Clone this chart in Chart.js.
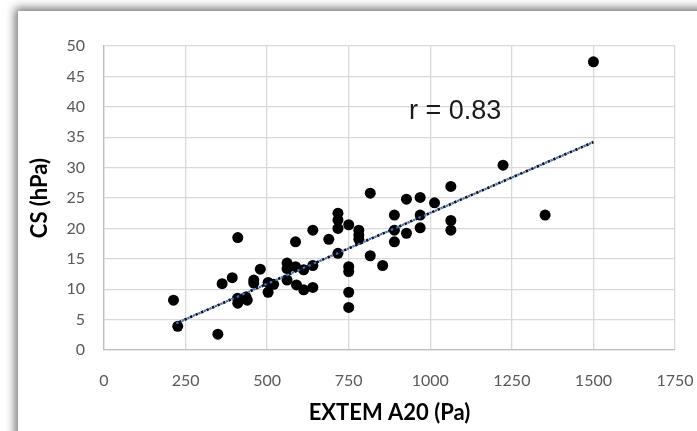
<!DOCTYPE html>
<html>
<head>
<meta charset="utf-8">
<script src="https://cdn.jsdelivr.net/npm/chart.js@4/dist/chart.umd.min.js"></script>
<style>
  html, body { margin: 0; padding: 0; background: #fff; overflow: hidden; }
  #wrap { position: relative; width: 697px; height: 431px; }
  #card { position: absolute; left: 18px; top: 11px; width: 760px; height: 480px; background: #fff;
          box-shadow: -2px -2px 9px 1px rgba(0,0,0,0.55); }
  #c { position: absolute; left: 0; top: 0; }
</style>
</head>
<body>
<div id="wrap">
  <div id="card"></div>
  <canvas id="c" width="697" height="431"></canvas>
</div>
<script>
// EXTEM A20 (Pa)
const extemA20 = [213, 226, 349, 362, 393, 410, 409, 410, 439, 435, 459, 459, 479, 503, 503, 520,
  561, 561, 561, 587, 587, 590, 612, 612, 640, 640, 640, 689, 717, 717, 717, 717,
  750, 750, 750, 750, 750, 781, 781, 781, 816, 816, 854, 890, 890, 890, 927, 927,
  969, 969, 969, 1013, 1063, 1063, 1063, 1223, 1352, 1500];
// CS (hPa)
const csValues = [8.2, 3.9, 2.6, 10.9, 11.9, 18.5, 8.5, 7.7, 8.2, 8.7, 11.5, 11.0, 13.3, 11.1, 9.5, 10.8,
  14.3, 13.4, 11.5, 13.7, 17.8, 10.7, 13.2, 9.9, 19.7, 13.9, 10.3, 18.2, 22.5, 21.4, 20.0, 15.9,
  20.6, 13.7, 12.9, 9.5, 7.0, 19.7, 18.9, 18.2, 25.8, 15.5, 13.9, 22.2, 19.7, 17.8, 24.8, 19.2,
  25.1, 22.2, 20.1, 24.2, 26.9, 21.3, 19.7, 30.4, 22.2, 47.4];
// Linear trendline endpoints
const trendX = [213, 1500];
const trendY = [4.2, 34.2];
// Axis ticks
const xTicks = [0, 250, 500, 750, 1000, 1250, 1500, 1750];
const yTicks = [0, 5, 10, 15, 20, 25, 30, 35, 40, 45, 50];
const rLabel = 'r = 0.83';
const rLabelPos = [935, 39.2];

const points = extemA20.map((x, i) => ({ x: x, y: csValues[i] }));
const trend = trendX.map((x, i) => ({ x: x, y: trendY[i] }));

const rLabelPlugin = {
  id: 'rLabel',
  afterDatasetsDraw(chart) {
    const ctx = chart.ctx;
    const xs = chart.scales.x, ys = chart.scales.y;
    ctx.save();
    ctx.font = '27px "Liberation Sans", Arial, sans-serif';
    ctx.fillStyle = '#1a1a1a';
    ctx.textAlign = 'left';
    ctx.textBaseline = 'middle';
    ctx.fillText(rLabel, xs.getPixelForValue(rLabelPos[0]), ys.getPixelForValue(rLabelPos[1]));
    ctx.restore();
  }
};

new Chart(document.getElementById('c'), {
  type: 'scatter',
  data: {
    datasets: [
      {
        data: trend, showLine: true, pointRadius: 0, borderColor: '#111111', borderWidth: 2.6,
        borderDash: [2.5, 3.5], borderCapStyle: 'butt', fill: false
      },
      {
        data: trend, showLine: true, pointRadius: 0, borderColor: '#4472C4', borderWidth: 2.2,
        borderDash: [2.5, 3.5], borderDashOffset: 3, fill: false
      },
      {
        data: points, backgroundColor: '#000000', borderColor: '#000000', borderWidth: 0,
        pointRadius: 5.5, pointHoverRadius: 5.5
      }
    ]
  },
  options: {
    responsive: false,
    animation: false,
    events: [],
    layout: { padding: { left: 0, top: 46, right: 22, bottom: 0 } },
    plugins: { legend: { display: false }, tooltip: { enabled: false } },
    scales: {
      x: {
        type: 'linear', min: 0, max: 1750,
        afterBuildTicks: (s) => { s.ticks = xTicks.map(v => ({ value: v })); },
        afterFit: (s) => { s.height = 81; s.paddingLeft = 0; s.paddingRight = 0; },
        grid: { color: '#d9d9d9', lineWidth: 1.3, drawTicks: false },
        border: { color: '#bfbfbf', width: 1.3 },
        ticks: { color: '#595959', font: { family: 'Lato', size: 16 }, padding: 21, maxRotation: 0,
                 callback: (v) => String(v) },
        title: { display: true, text: 'EXTEM A20 (Pa)', color: '#000',
                 font: { family: 'Lato', size: 22, weight: 'bold' }, padding: { top: 0, bottom: 5 } }
      },
      y: {
        type: 'linear', min: 0, max: 50,
        afterBuildTicks: (s) => { s.ticks = yTicks.map(v => ({ value: v })); },
        afterFit: (s) => { s.width = 104; s.paddingTop = 0; s.paddingBottom = 0; },
        grid: { color: '#d9d9d9', lineWidth: 1.3, drawTicks: false },
        border: { color: '#bfbfbf', width: 1.3 },
        ticks: { color: '#595959', font: { family: 'Lato', size: 16 }, padding: 19,
                 callback: (v) => String(v) },
        title: { display: true, text: 'CS (hPa)', color: '#000',
                 font: { family: 'Lato', size: 22, weight: 'bold' }, padding: { top: 27, bottom: 0 } }
      }
    }
  },
  plugins: [rLabelPlugin]
});
</script>
</body>
</html>
